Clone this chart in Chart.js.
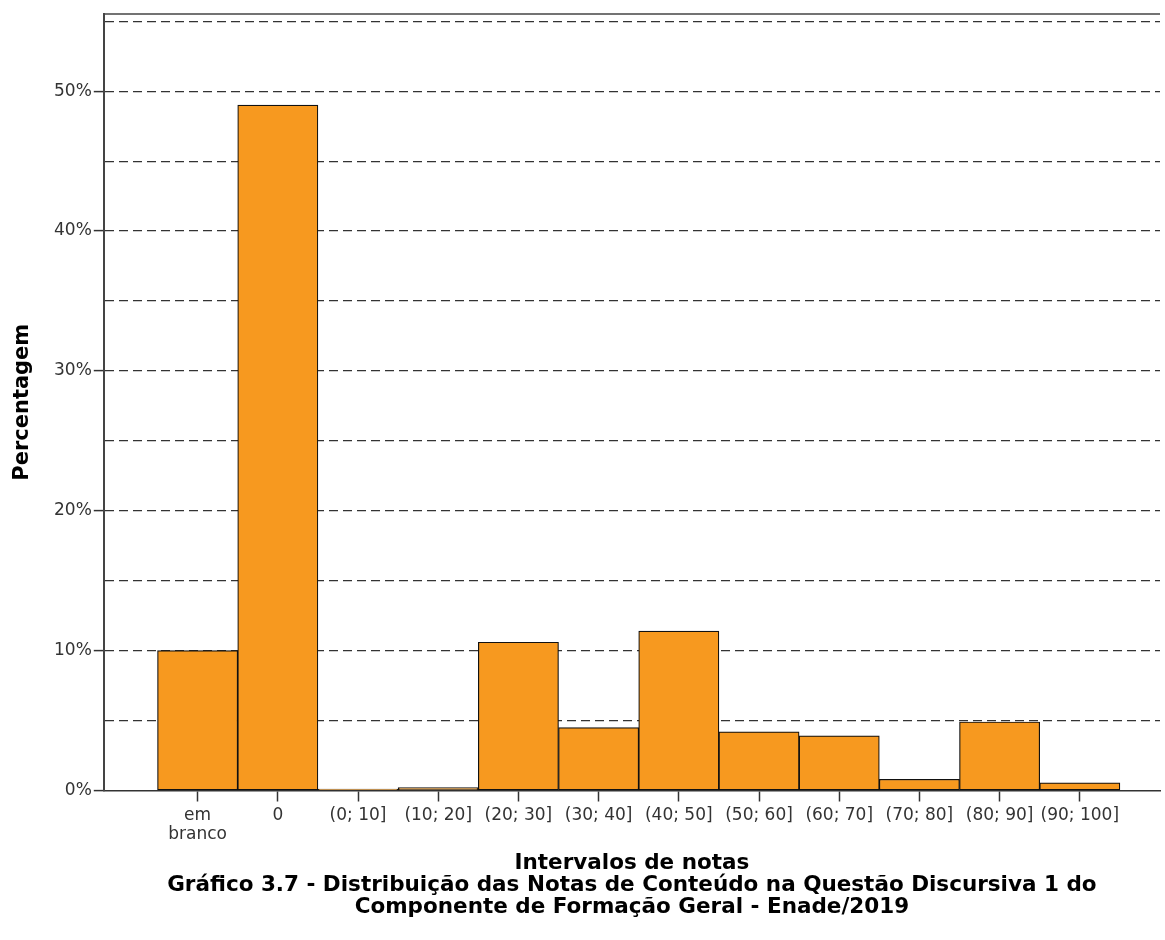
<!DOCTYPE html>
<html>
<head>
<meta charset="utf-8">
<script src="https://cdn.jsdelivr.net/npm/chart.js@4.4.1/dist/chart.umd.min.js"></script>
<style>
  html, body { margin: 0; padding: 0; background: #fff; }
  #wrap { width: 1165px; height: 940px; }
</style>
</head>
<body>
<div id="wrap"><canvas id="chartNotas"></canvas></div>
<script>
// Distribuicao das notas
const categorias = ['em branco', '0', '(0; 10]', '(10; 20]', '(20; 30]', '(30; 40]',
  '(40; 50]', '(50; 60]', '(60; 70]', '(70; 80]', '(80; 90]', '(90; 100]'];
const percentuais = [10.0, 49.0, 0.1, 0.2, 10.6, 4.5, 11.4, 4.2, 3.9, 0.8, 4.9, 0.55];
const yTicks = [0, 10, 20, 30, 40, 50];

Chart.defaults.font.family = "'DejaVu Sans', sans-serif";
Chart.defaults.color = '#333';

// linha superior do quadro
const topFrame = {
  id: 'topFrame',
  afterDraw(chart) {
    const { ctx, chartArea } = chart;
    ctx.save();
    ctx.strokeStyle = '#444';
    ctx.lineWidth = 1.5;
    ctx.beginPath();
    ctx.moveTo(chartArea.left, chartArea.top);
    ctx.lineTo(chartArea.right, chartArea.top);
    ctx.stroke();
    ctx.restore();
  }
};

new Chart(document.getElementById('chartNotas'), {
  type: 'bar',
  data: {
    datasets: [{
      label: 'Percentagem',
      data: categorias.map((c, i) => ({ x: i, y: percentuais[i] })),
      backgroundColor: '#F7991F',
      borderColor: '#111',
      borderWidth: 1.2,
      borderSkipped: false,
      barPercentage: 1,
      categoryPercentage: 1
    }]
  },
  options: {
    responsive: true,
    maintainAspectRatio: false,
    animation: false,
    layout: { padding: { left: 12, right: 5, top: 14, bottom: 21 } },
    plugins: {
      legend: { display: false },
      tooltip: { enabled: false }
    },
    scales: {
      x: {
        type: 'linear',
        offset: false,
        min: -1.17,
        max: 12,
        afterBuildTicks(scale) {
          scale.ticks = categorias.map((c, i) => ({ value: i }));
        },
        ticks: {
          autoSkip: false,
          maxRotation: 0,
          padding: 4,
          font: { size: 17, lineHeight: 1.13 },
          color: '#333',
          callback: (v) => {
            const lbl = categorias[v];
            return lbl === 'em branco' ? ['em', 'branco'] : lbl;
          }
        },
        grid: {
          offset: false,
          drawOnChartArea: false,
          drawTicks: true,
          tickLength: 11,
          tickColor: '#333',
          tickWidth: 1.5
        },
        border: { display: true, color: '#333', width: 1.5 },
        title: {
          display: true,
          text: ['Intervalos de notas',
            'Gráfico 3.7 - Distribuição das Notas de Conteúdo na Questão Discursiva 1 do',
            'Componente de Formação Geral - Enade/2019'],
          color: '#000',
          font: { size: 21.5, weight: 'bold', lineHeight: 1.04 },
          padding: { top: 4, bottom: 0 }
        }
      },
      y: {
        min: 0,
        max: 55.52,
        ticks: {
          stepSize: 5,
          includeBounds: false,
          padding: 2,
          font: { size: 17 },
          color: '#333',
          callback: (v) => yTicks.includes(v) ? v + '%' : ''
        },
        grid: {
          color: (ctx) => ctx.tick && ctx.tick.value === 0 ? 'transparent' : '#333',
          lineWidth: 1.2,
          tickLength: 10,
          tickColor: (ctx) => ctx.tick && yTicks.includes(ctx.tick.value) ? '#333' : 'transparent',
          tickWidth: 1.5
        },
        border: { display: true, color: '#444', width: 2, dash: [9, 5] },
        title: {
          display: true,
          text: 'Percentagem',
          color: '#000',
          font: { size: 21, weight: 'bold', lineHeight: 1 },
          padding: { top: 0, bottom: 19 }
        }
      }
    }
  },
  plugins: [topFrame]
});
</script>
</body>
</html>
